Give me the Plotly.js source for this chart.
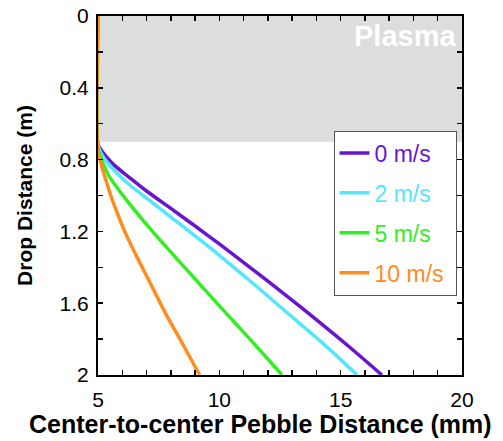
<!DOCTYPE html>
<html><head><meta charset="utf-8">
<script src="https://cdn.plot.ly/plotly-3.0.1.min.js"></script>
<style>html,body{margin:0;padding:0;background:#fff}#chart{width:503px;height:441px}</style>
</head><body><div id="chart"></div>
<script>
// Series: x = center-to-center pebble distance (mm), y = drop distance (m)
const names = ["0 m/s", "2 m/s", "5 m/s", "10 m/s"];
const colors = ["#6a14d2", "#55e6ff", "#33ee22", "#ff8c1e"];

const x0 = [5, 5, 5.15, 5.35, 5.7, 6.3, 7.0, 8.0, 9.0, 10.0, 11.26, 12.64, 14.02, 15.40, 16.70];
const y0 = [0, 0.715, 0.75, 0.785, 0.835, 0.90, 0.975, 1.072, 1.17, 1.27, 1.40, 1.545, 1.694, 1.848, 2.0];

const x2 = [5, 5, 5.15, 5.35, 5.7, 6.3, 7.0, 8.0, 9.0, 10.0, 11.26, 12.64, 14.02, 14.85, 15.67];
const y2 = [0, 0.72, 0.77, 0.81, 0.865, 0.94, 1.015, 1.12, 1.225, 1.333, 1.475, 1.635, 1.795, 1.895, 2.0];

const x5 = [5, 5, 5.1, 5.25, 5.45, 5.7, 6.2, 6.9, 7.8, 8.6, 9.9, 11.26, 12.09, 12.58];
const y5 = [0, 0.74, 0.78, 0.835, 0.89, 0.94, 1.03, 1.145, 1.285, 1.405, 1.60, 1.80, 1.925, 2.0];

const x10 = [5, 5, 5.08, 5.2, 5.35, 5.55, 5.8, 6.1, 6.55, 7.1, 7.75, 8.5, 9.19];
const y10 = [0, 0.77, 0.80, 0.86, 0.925, 1.01, 1.10, 1.20, 1.328, 1.474, 1.648, 1.83, 2.0];

const plasmaTop = 0, plasmaBottom = 0.7;
const plasmaLabel = "Plasma";
const xTitle = "Center-to-center Pebble Distance (mm)";
const yTitle = "Drop Distance (m)";

const FONT = "Arial, Liberation Sans, sans-serif";
const xs = [x0, x2, x5, x10], ys = [y0, y2, y5, y10];
const traces = xs.map((x, i) => ({
  x: x, y: ys[i], type: "scatter", mode: "lines",
  name: '<span style="color:' + colors[i] + '">' + names[i] + '\u00a0</span>',
  legendgroup: "g" + i,
  line: {color: colors[i], width: 3.5, shape: "spline", smoothing: 0.8}
}));

const axisCommon = {
  showline: true, linecolor: "#000", linewidth: 2, mirror: "ticks",
  ticks: "inside", ticklen: 5, tickwidth: 1.5, tickcolor: "#000",
  showgrid: false, zeroline: false,
  tickfont: {family: FONT, size: 21, color: "#000"}
};

const layout = {
  width: 503, height: 441,
  margin: {l: 98, r: 41, t: 16, b: 66},
  paper_bgcolor: "#fff", plot_bgcolor: "#fff",
  showlegend: true,
  legend: {
    x: 0.647, y: 0.681, xanchor: "left", yanchor: "top",
    bgcolor: "#fff", bordercolor: "#555", borderwidth: 1,
    font: {family: FONT, size: 23},
    traceorder: "grouped", tracegroupgap: 7
  },
  xaxis: Object.assign({}, axisCommon, {
    range: [5, 20], dtick: 5, tick0: 5, ticklabelstandoff: 5,
    minor: {dtick: 1, ticks: "inside", ticklen: 5, tickcolor: "#000", tickwidth: 1.5}
  }),
  yaxis: Object.assign({}, axisCommon, {
    range: [2, 0], dtick: 0.4, tick0: 0, ticklabelstandoff: 3,
    minor: {dtick: 0.2, ticks: "inside", ticklen: 5, tickcolor: "#000", tickwidth: 1.5},
    title: {text: "<b>" + yTitle + "</b>", font: {family: FONT, size: 21, color: "#000"}, standoff: 21}
  }),
  shapes: [{
    type: "rect", xref: "paper", yref: "y", x0: 0, x1: 1, y0: plasmaTop, y1: plasmaBottom,
    fillcolor: "#dcdddd", line: {width: 0}, layer: "below"
  }],
  annotations: [{
    text: "<b>" + plasmaLabel + "</b>", xref: "paper", yref: "paper", x: 0.99, y: 0.995,
    xanchor: "right", yanchor: "top", showarrow: false,
    font: {family: FONT, size: 29, color: "#fff"}
  }, {
    text: "<b>" + xTitle + "</b>", xref: "paper", yref: "paper", x: 0.446, y: 0, yshift: -33,
    xanchor: "center", yanchor: "top", showarrow: false,
    font: {family: FONT, size: 25, color: "#000"}
  }]
};

Plotly.newPlot("chart", traces, layout, {displayModeBar: false, staticPlot: true});
</script>
</body></html>
